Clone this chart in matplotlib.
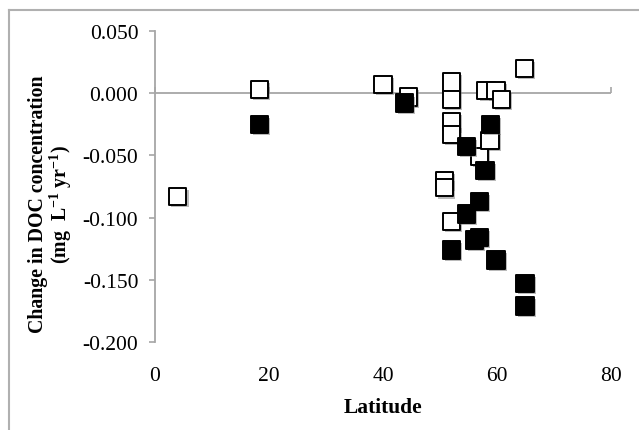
import matplotlib
matplotlib.use("Agg")
import matplotlib.pyplot as plt
import matplotlib.patheffects as pe
from matplotlib.lines import Line2D

# open squares
open_lat = [4.0, 18.3, 40.0, 44.5, 52.0, 52.0, 52.0, 52.0, 50.8, 50.8, 52.0,
            56.9, 58.1, 59.8, 60.8, 58.8, 64.8]
open_doc = [-0.083, 0.003, 0.007, -0.003, 0.009, -0.005, -0.023, -0.033, -0.070, -0.076, -0.103,
            -0.051, 0.002, 0.002, -0.005, -0.038, 0.020]

# filled squares
fill_lat = [18.3, 43.8, 54.6, 58.9, 57.9, 56.9, 54.6, 56.9, 56.0, 52.0, 59.8, 64.9, 64.9]
fill_doc = [-0.025, -0.008, -0.043, -0.025, -0.062, -0.087, -0.097, -0.116, -0.118, -0.126,
            -0.134, -0.153, -0.171]

x_ticks = [0, 20, 40, 60, 80]
y_ticks = [0.05, 0.0, -0.05, -0.1, -0.15, -0.2]
ylo, yhi = -0.2, 0.05

plt.rcParams["font.family"] = ["Liberation Serif", "DejaVu Serif"]
plt.rcParams["axes.unicode_minus"] = False
plt.rcParams["mathtext.fontset"] = "custom"
plt.rcParams["mathtext.rm"] = "Liberation Serif"
plt.rcParams["mathtext.bf"] = "Liberation Serif:bold"
axis_gray = "#a6a6a6"

fig = plt.figure(figsize=(6.39, 4.31), dpi=100)
ax = fig.add_axes([155 / 639, 1 - 343 / 431, 456 / 639, 311 / 431])

shadow = [pe.SimplePatchShadow(offset=(1.5, -1.5), shadow_rgbFace="#777777", alpha=0.5), pe.Normal()]
ax.scatter(open_lat, open_doc, marker="s", s=12.5 ** 2, facecolor="white",
           edgecolor="black", linewidth=1.4, zorder=3, path_effects=shadow)
ax.scatter(fill_lat, fill_doc, marker="s", s=12.5 ** 2, facecolor="black",
           edgecolor="black", linewidth=1.4, zorder=4, path_effects=shadow)

ax.set_xlim(0, 80)
ax.set_ylim(ylo, yhi)
ax.set_yticks(y_ticks)
ax.set_yticklabels(["%.3f" % v for v in y_ticks])
ax.set_xticks(x_ticks)
ax.set_xticklabels([str(v) for v in x_ticks])

for s in ["top", "right", "bottom"]:
    ax.spines[s].set_visible(False)
ax.spines["left"].set_color(axis_gray)
ax.spines["left"].set_linewidth(1.3)
ax.tick_params(axis="y", direction="out", length=4, width=1.2, color=axis_gray,
               labelsize=15.5, pad=8)
ax.tick_params(axis="x", length=0, labelsize=15.5, pad=17)

# horizontal axis crossing at zero
ax.axhline(0, color=axis_gray, lw=1.3, zorder=1)
sec = ax.secondary_xaxis((0 - ylo) / (yhi - ylo))
sec.set_xticks(x_ticks)
sec.set_xticklabels([])
for sp in sec.spines.values():
    sp.set_visible(False)
sec.tick_params(direction="out", length=4, width=1.2, color=axis_gray)

ax.set_xlabel("Latitude", fontsize=15.5, fontweight="bold", labelpad=9)
ax.set_ylabel("Change in DOC concentration\n(mg  L$^{\\mathbf{-1}}$ yr$^{\\mathbf{-1}}$)",
              fontsize=14.3, fontweight="bold", linespacing=0.95)
ax.yaxis.set_label_coords(-0.178, 0.445)

# chart area border
fig.add_artist(Line2D([9 / 639, 1], [1 - 11 / 431, 1 - 11 / 431], color="#b0b0b0", lw=1.5))
fig.add_artist(Line2D([9 / 639, 9 / 639], [0, 1 - 11 / 431], color="#b0b0b0", lw=1.5))

fig.savefig("out.png", dpi=100)
